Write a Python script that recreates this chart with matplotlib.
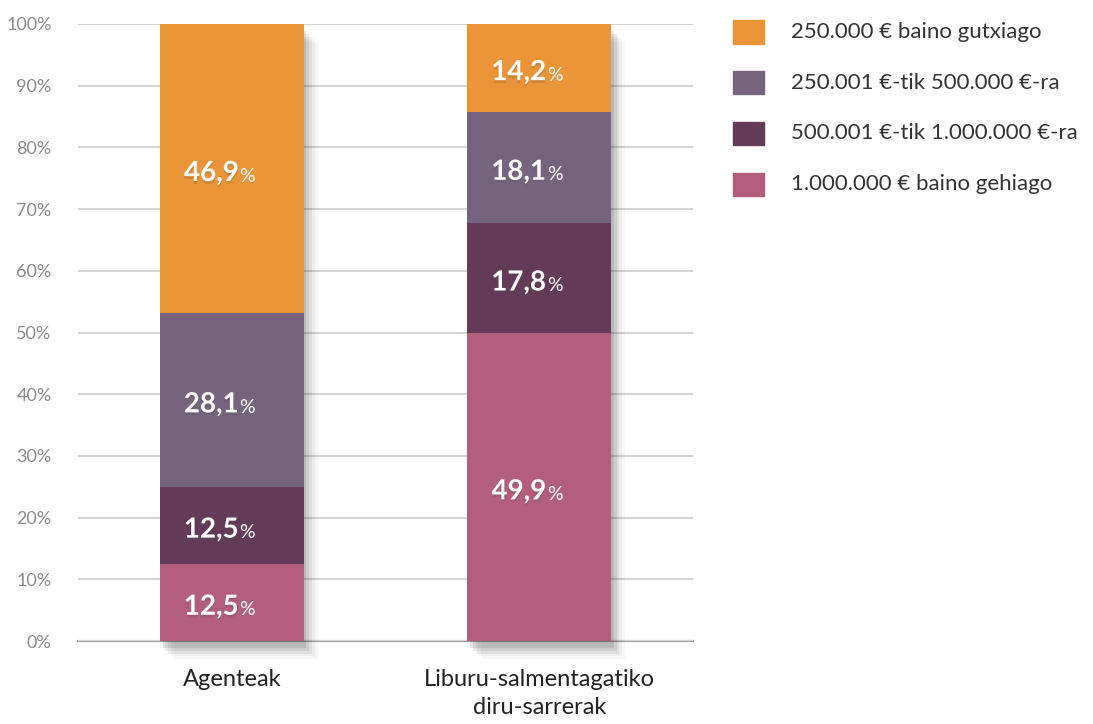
import matplotlib.pyplot as plt
import matplotlib.patheffects as pe
from matplotlib.patches import Rectangle

categories = ["Agenteak", "Liburu-salmentagatiko\ndiru-sarrerak"]
series = ["1.000.000 € baino gehiago", "500.001 €-tik 1.000.000 €-ra",
          "250.001 €-tik 500.000 €-ra", "250.000 € baino gutxiago"]
values = [[12.5, 49.9],
          [12.5, 17.8],
          [28.1, 18.1],
          [46.9, 14.2]]
colors = ["#B45E7E", "#633B58", "#76647F", "#EC9538"]
yticks = [0, 10, 20, 30, 40, 50, 60, 70, 80, 90, 100]

fam = ["Lato", "DejaVu Sans"]

fig = plt.figure(figsize=(10.93, 7.24), dpi=100)
ax = fig.add_axes([78 / 1093, 83 / 724, 615 / 1093, 617 / 724])

x = list(range(len(categories)))
width = 0.4675

# soft drop shadow behind the whole stack
totals = [sum(v[i] for v in values) for i in x]
shade = ax.bar(x, totals, width, color="k", zorder=2, clip_on=False)
for b in shade:
    b.set_path_effects([pe.SimplePatchShadow(offset=(o, -o - 3), shadow_rgbFace="k", alpha=a)
                        for o, a in [(2, 0.10), (4, 0.08), (6, 0.06), (8, 0.04), (10, 0.03)]])

bottom = [0] * len(categories)
for vals, col in zip(values, colors):
    ax.bar(x, vals, width, bottom=bottom, color=col, zorder=3, clip_on=False)
    for i, v in enumerate(vals):
        yc = bottom[i] + v / 2 - 0.7
        num = f"{v:.1f}".replace(".", ",")
        ax.annotate(num, (i, yc), xytext=(5, 0), textcoords="offset points",
                    ha="right", va="center", color="white", fontsize=20,
                    fontweight="bold", family=fam, zorder=5,
                    path_effects=[pe.withSimplePatchShadow(offset=(0, -2), alpha=0.2)])
        ax.annotate("%", (i, yc - 0.5), xytext=(5.5, 0), textcoords="offset points",
                    ha="left", va="center", color="white", fontsize=14,
                    family=fam, zorder=5)
    bottom = [b + v for b, v in zip(bottom, vals)]

ax.set_xlim(-0.5, 1.5)
ax.set_ylim(0, 100)
ax.set_yticks(yticks)
ax.set_yticklabels([f"{t}%" for t in yticks], family=fam, fontsize=13,
                   color="#8a8a8a")
ax.set_xticks(x)
ax.set_xticklabels(categories, family=fam, fontsize=17, color="#222222",
                   linespacing=1.45)
ax.tick_params(axis="both", length=0)
ax.tick_params(axis="y", pad=19)
ax.tick_params(axis="x", pad=20)
ax.grid(axis="y", color="#d4d4d4", linewidth=1.5, zorder=0)
for s in ["top", "right", "left"]:
    ax.spines[s].set_visible(False)
ax.spines["bottom"].set_color("#a0a0a0")
ax.spines["bottom"].set_linewidth(1.5)
ax.spines["bottom"].set_zorder(1)

# legend, top to bottom: orange first
for k, (lab, col) in enumerate(zip(series[::-1], colors[::-1])):
    yc = 724 - (32 + k * 50.7)
    fig.patches.append(Rectangle((733 / 1093, (yc - 11.5) / 724), 31 / 1093, 23 / 724,
                                 transform=fig.transFigure, color=col))
    fig.text(791 / 1093, yc / 724, lab, ha="left", va="center", fontsize=16,
             color="#333333", family=fam)

fig.savefig("out.png", dpi=100)
